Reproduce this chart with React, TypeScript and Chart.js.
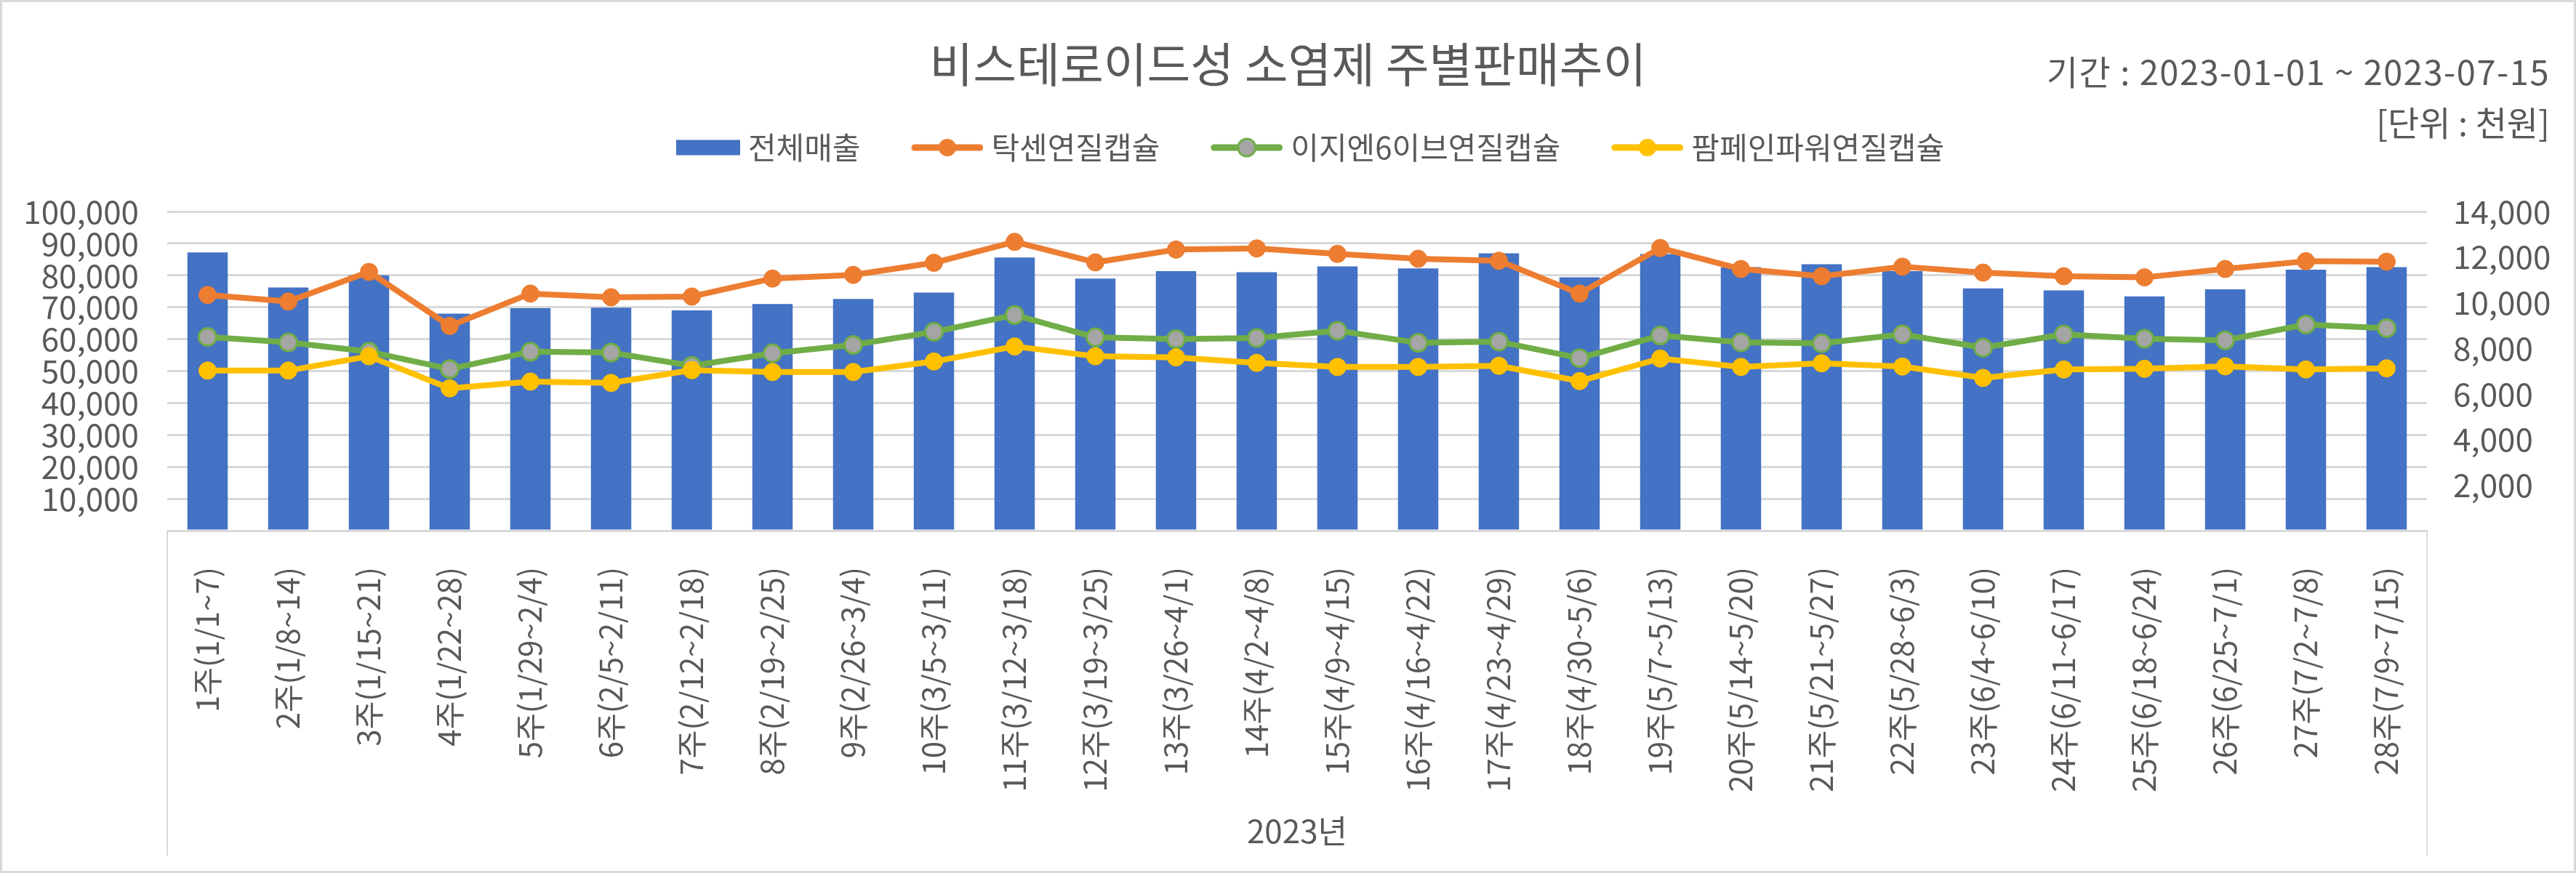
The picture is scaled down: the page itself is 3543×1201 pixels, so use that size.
import React, { useEffect, useRef } from 'react';
import { Chart, registerables } from 'chart.js';

Chart.register(...registerables);

const FONT = "'Noto Sans CJK KR', 'Noto Sans', sans-serif";
const TEXT = '#595959';
const GRID = '#d9d9d9';

const chartTitle = '비스테로이드성 소염제 주별판매추이';
const periodText = '기간 : 2023-01-01 ~ 2023-07-15';
const unitText = '[단위 : 천원]';
const axisTitle = '2023년';

const weekLabels = [
  '1주(1/1~7)', '2주(1/8~14)', '3주(1/15~21)', '4주(1/22~28)', '5주(1/29~2/4)',
  '6주(2/5~2/11)', '7주(2/12~2/18)', '8주(2/19~2/25)', '9주(2/26~3/4)', '10주(3/5~3/11)',
  '11주(3/12~3/18)', '12주(3/19~3/25)', '13주(3/26~4/1)', '14주(4/2~4/8)', '15주(4/9~4/15)',
  '16주(4/16~4/22)', '17주(4/23~4/29)', '18주(4/30~5/6)', '19주(5/7~5/13)', '20주(5/14~5/20)',
  '21주(5/21~5/27)', '22주(5/28~6/3)', '23주(6/4~6/10)', '24주(6/11~6/17)', '25주(6/18~6/24)',
  '26주(6/25~7/1)', '27주(7/2~7/8)', '28주(7/9~7/15)',
];

const seriesNames = ['전체매출', '탁센연질캡슐', '이지엔6이브연질캡슐', '팜페인파워연질캡슐'];

const totalSales = [
  87200, 76200, 80000, 68000, 69700, 69900, 69000, 71000, 72600, 74600,
  85600, 79000, 81300, 81000, 82800, 82200, 86900, 79400, 86700, 82600,
  83500, 81300, 75900, 75300, 73400, 75600, 81800, 82600,
];

const taxenSales = [
  10340, 10050, 11350, 8980, 10400, 10240, 10270, 11060, 11220, 11750,
  12670, 11770, 12330, 12380, 12140, 11930, 11840, 10400, 12400, 11480,
  11160, 11580, 11320, 11160, 11110, 11480, 11820, 11800,
];

const ezn6Sales = [
  8500, 8260, 7850, 7090, 7850, 7810, 7230, 7780, 8150, 8720,
  9460, 8480, 8400, 8450, 8770, 8240, 8290, 7570, 8560, 8260,
  8220, 8610, 8030, 8610, 8420, 8350, 9040, 8880,
];

const pampainSales = [
  7020, 7020, 7650, 6240, 6540, 6480, 7040, 6960, 6960, 7420,
  8080, 7650, 7600, 7360, 7180, 7180, 7230, 6560, 7550, 7180,
  7340, 7200, 6700, 7070, 7100, 7210, 7070, 7120,
];

const leftAxisMax = 100000;
const leftAxisStep = 10000;
const rightAxisMax = 14000;
const rightAxisStep = 2000;

const BLUE = '#4472c4';
const ORANGE = '#ed7d31';
const GREEN = '#70ad47';
const GRAY = '#a5a5a5';
const YELLOW = '#ffc000';

const W = 3543;
const H = 1201;

function makeIcon(kind: string, color: string, fill: string, border: string | null) {
  const cw = 159;
  const ch = 30;
  const c = document.createElement('canvas');
  c.width = cw;
  c.height = ch;
  const ctx = c.getContext('2d')!;
  if (kind === 'bar') {
    ctx.fillStyle = color;
    ctx.fillRect(cw - 88, (ch - 21) / 2, 88, 21);
  } else {
    ctx.strokeStyle = color;
    ctx.lineWidth = 9;
    ctx.lineCap = 'round';
    ctx.beginPath();
    ctx.moveTo(cw - 99 + 4.5, ch / 2);
    ctx.lineTo(cw - 4.5, ch / 2);
    ctx.stroke();
    ctx.beginPath();
    ctx.arc(cw - 49.5, ch / 2, 12, 0, Math.PI * 2);
    ctx.fillStyle = fill;
    ctx.fill();
    if (border) {
      ctx.lineWidth = 3;
      ctx.strokeStyle = border;
      ctx.stroke();
    }
  }
  return c;
}

const fmt = (v: any) => (Number(v) === 0 ? '' : Number(v).toLocaleString('en-US'));

const framePlugin = {
  id: 'framePlugin',
  beforeDraw(chart: any) {
    const ctx = chart.ctx;
    ctx.save();
    ctx.fillStyle = '#ffffff';
    ctx.fillRect(0, 0, chart.width, chart.height);
    ctx.restore();
  },
  afterDraw(chart: any) {
    const ctx = chart.ctx;
    const a = chart.chartArea;
    ctx.save();
    ctx.strokeStyle = GRID;
    ctx.lineWidth = 2;
    ctx.beginPath();
    ctx.moveTo(a.left, a.bottom);
    ctx.lineTo(a.left, 1177);
    ctx.moveTo(a.right, a.bottom);
    ctx.lineTo(a.right, 1177);
    ctx.stroke();
    ctx.lineWidth = 4;
    ctx.strokeRect(1, 1, chart.width - 2, chart.height - 2);
    ctx.restore();
  },
};

export default function App() {
  const ref = useRef<HTMLCanvasElement>(null);

  useEffect(() => {
    document.body.style.margin = '0';
    const icons = [
      makeIcon('bar', BLUE, BLUE, null),
      makeIcon('line', ORANGE, ORANGE, null),
      makeIcon('line', GREEN, GRAY, GREEN),
      makeIcon('line', YELLOW, YELLOW, null),
    ];
    const lineCommon = {
      type: 'line' as const,
      yAxisID: 'y1',
      borderWidth: 8,
      pointRadius: 12,
      pointHoverRadius: 12,
      borderJoinStyle: 'round' as const,
      borderCapStyle: 'round' as const,
      tension: 0,
    };
    const chart = new Chart(ref.current!, {
      type: 'bar',
      data: {
        labels: weekLabels,
        datasets: [
          {
            type: 'bar',
            label: seriesNames[0],
            data: totalSales,
            backgroundColor: BLUE,
            yAxisID: 'y',
            categoryPercentage: 1,
            barPercentage: 0.5,
            order: 10,
          } as any,
          {
            ...lineCommon,
            label: seriesNames[1],
            data: taxenSales,
            borderColor: ORANGE,
            backgroundColor: ORANGE,
            pointBackgroundColor: ORANGE,
            pointBorderColor: ORANGE,
            pointBorderWidth: 1,
            order: 3,
          } as any,
          {
            ...lineCommon,
            label: seriesNames[2],
            data: ezn6Sales,
            borderColor: GREEN,
            backgroundColor: GREEN,
            pointBackgroundColor: GRAY,
            pointBorderColor: GREEN,
            pointBorderWidth: 3,
            order: 2,
          } as any,
          {
            ...lineCommon,
            label: seriesNames[3],
            data: pampainSales,
            borderColor: YELLOW,
            backgroundColor: YELLOW,
            pointBackgroundColor: YELLOW,
            pointBorderColor: YELLOW,
            pointBorderWidth: 1,
            order: 1,
          } as any,
        ],
      },
      options: {
        responsive: false,
        animation: false,
        devicePixelRatio: 1,
        layout: { padding: { left: 0, right: 0, top: 0, bottom: 0 } },
        plugins: {
          title: {
            display: true,
            text: chartTitle,
            color: TEXT,
            font: { family: FONT, size: 65, weight: 'normal' },
            padding: { top: 49, bottom: 35 },
          },
          legend: {
            display: true,
            position: 'top',
            align: 'center',
            labels: {
              usePointStyle: true,
              pointStyleWidth: 139,
              padding: 20,
              color: TEXT,
              font: { family: FONT, size: 42 },
              generateLabels: (c: any) =>
                c.data.datasets.map((ds: any, i: number) => ({
                  text: ds.label,
                  pointStyle: icons[i],
                  fillStyle: 'rgba(0,0,0,0)',
                  strokeStyle: 'rgba(0,0,0,0)',
                  lineWidth: 0,
                  hidden: false,
                  datasetIndex: i,
                  fontColor: TEXT,
                })),
            },
          },
          tooltip: { enabled: false },
        },
        scales: {
          x: {
            type: 'category',
            position: 'bottom',
            offset: true,
            grid: { display: false, drawTicks: false },
            border: { display: true, color: GRID, width: 3 },
            ticks: {
              autoSkip: false,
              minRotation: 90,
              maxRotation: 90,
              padding: 50,
              color: TEXT,
              font: { family: FONT, size: 42 },
            },
            title: {
              display: true,
              text: axisTitle,
              color: TEXT,
              font: { family: FONT, size: 44 },
              padding: { top: 0, bottom: 31 },
            },
            afterFit: (s: any) => {
              s.height = H - 730;
            },
          },
          xTop: {
            type: 'category',
            position: 'top',
            display: true,
            grid: { display: false, drawTicks: false },
            border: { display: false },
            ticks: { display: false },
            afterFit: (s: any) => {
              s.height = 57;
            },
          },
          y: {
            type: 'linear',
            position: 'left',
            min: 0,
            max: leftAxisMax,
            grid: { color: GRID, lineWidth: 3, drawTicks: false },
            border: { display: false },
            ticks: {
              autoSkip: false,
              stepSize: leftAxisStep,
              padding: 39,
              color: TEXT,
              font: { family: FONT, size: 44 },
              callback: fmt,
            },
            afterFit: (s: any) => {
              s.width = 230;
            },
          },
          y1: {
            type: 'linear',
            position: 'right',
            min: 0,
            max: rightAxisMax,
            grid: { display: false, drawTicks: false },
            border: { display: false },
            ticks: {
              autoSkip: false,
              stepSize: rightAxisStep,
              padding: 36,
              color: TEXT,
              font: { family: FONT, size: 44 },
              callback: fmt,
            },
            afterFit: (s: any) => {
              s.width = W - 3338;
            },
          },
        },
      } as any,
      plugins: [framePlugin],
    });
    return () => chart.destroy();
  }, []);

  const sideText: React.CSSProperties = {
    position: 'absolute',
    right: 36,
    height: 56,
    lineHeight: '56px',
    fontSize: 47,
    color: TEXT,
    fontFamily: FONT,
    whiteSpace: 'nowrap',
  };

  return (
    <div style={{ position: 'relative', width: W, height: H }}>
      <canvas ref={ref} width={W} height={H} style={{ display: 'block', width: W, height: H }} />
      <div style={{ ...sideText, top: 69, letterSpacing: '1.5px' }}>{periodText}</div>
      <div style={{ ...sideText, top: 139 }}>{unitText}</div>
    </div>
  );
}
